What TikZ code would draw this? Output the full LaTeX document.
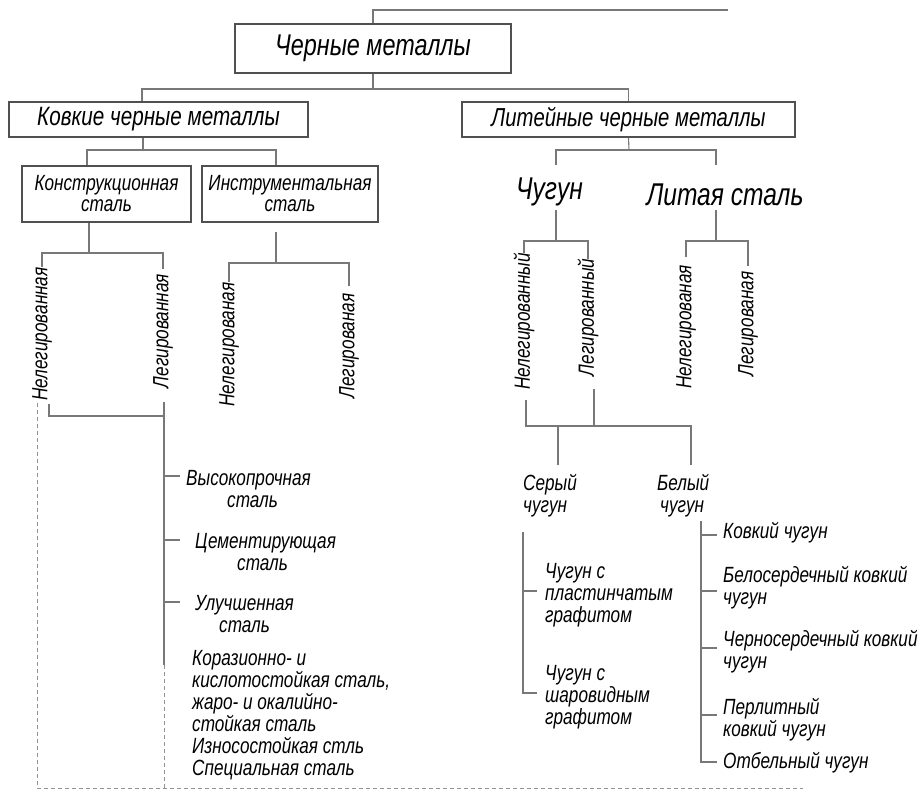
\documentclass[tikz,border=0pt]{standalone}
\usepackage{fontspec}
\setmainfont{Liberation Sans}[FakeStretch=0.78]
\usetikzlibrary{calc}
\definecolor{linegray}{RGB}{120,120,120}
\definecolor{boxgray}{RGB}{80,80,80}
\begin{document}
\begin{tikzpicture}[x=1pt,y=-1pt,
  ln/.style={draw=linegray,line width=1.1pt},
  dsh/.style={draw=linegray!80,line width=0.9pt,dash pattern=on 4pt off 3pt},
  box/.style={draw=boxgray,line width=1.1pt,inner sep=0pt,align=center},
  lbl/.style={inner sep=0pt,align=left,anchor=west,font=\fontsize{22}{22}\selectfont\itshape},
  rot/.style={inner sep=0pt,rotate=90,font=\fontsize{22}{22}\selectfont\itshape},
  big/.style={inner sep=0pt,font=\fontsize{31.5}{31.5}\selectfont\itshape}
]
\fill[white] (0,0) rectangle (923,792);
\useasboundingbox (0,0) rectangle (923,792);

% ---- top level boxes
\node[box,minimum width=276pt,minimum height=49pt,font=\fontsize{30}{30}\selectfont\itshape] (n0) at (373,48.5) {Черные металлы};
\node[box,minimum width=299pt,minimum height=35pt,font=\fontsize{26.5}{26.5}\selectfont\itshape] (k) at (158.5,119.5) {Ковкие черные металлы};
\node[box,minimum width=333pt,minimum height=35pt,font=\fontsize{26}{26}\selectfont\itshape] (l) at (628.5,119.5) {Литейные черные металлы};
\node[box,minimum width=169pt,minimum height=56pt,font=\fontsize{22}{21}\selectfont\itshape] (c) at (106.5,194) {Конструкционная\\сталь};
\node[box,minimum width=176pt,minimum height=56pt,font=\fontsize{22}{21}\selectfont\itshape] (i) at (290,194) {Инструментальная\\сталь};

\coordinate (topend) at (728,10);
\coordinate (j0) at (373,89);
\coordinate (j1) at (143,150);
\draw[ln] (n0.north) |- (topend);
\draw[ln] (n0.south) -- (j0);
\draw[ln] ([xshift=-16.5pt]k.north) |- (j0) -| (l.north);
\draw[ln] ([xshift=-15.5pt]k.south) -- (j1);
\draw[ln] ([xshift=-19.5pt]c.north) |- (j1) -| ([xshift=-14pt]i.north);

% ---- rotated labels, left
\node[rot] (cn) at (42,334) {Нелегированная};
\node[rot] (cl) at (163,331) {Легированная};
\node[rot] (in) at (229,344.5) {Нелегированая};
\node[rot] (il) at (349,346) {Легированая};

\coordinate (j2) at (89,253);
\coordinate (j2i) at (276,263);
\coordinate (ic) at (276,232);
\draw[ln] ([xshift=-17.5pt]c.south) -- (j2);
\draw[ln,shorten >=5pt] (cn.east) |- (j2) -| (cl.east);
\draw[ln] (ic) -- (j2i);
\draw[ln,shorten >=7pt] (in.east) |- (j2i) -| (il.east);

\coordinate (j3) at (164,416);
\coordinate (lb) at (164,665);
\coordinate (bb) at (164,788);
\coordinate (dc) at (37,788);
\coordinate (dr) at (803,788);
\draw[ln] ($(cn.west)+(7,3)$) |- (j3);
\draw[ln] ($(cl.west)+(1,14)$) -- (lb);
\draw[dsh] (lb) -- (bb);
\draw[dsh] ($(cn.west)+(-5,2)$) -- (dc) -- (dr);

% ticks left
\draw[ln] (164,476) -- (180,476);
\draw[ln] (164,540) -- (180,540);
\draw[ln] (164,602) -- (180,602);

\node[lbl] (t1) at (186,489) {Высокопрочная\\\hspace*{41pt}сталь};
\node[lbl] (t2) at (195,552) {Цементирующая\\\hspace*{42pt}сталь};
\node[lbl] (t3) at (195,614) {Улучшенная\\\hspace*{24pt}сталь};
\node[lbl] (t4) at (192,715) {Коразионно- и\\кислотостойкая сталь,\\жаро- и окалийно-\\стойкая сталь\\Износостойкая стль\\Специальная сталь};

% ---- right side
\node[big] (ch) at (549.5,192) {Чугун};
\node[big] (ls) at (725,195) {Литая сталь};
\coordinate (j4) at (629,150);
\coordinate (ch1) at (556,165);
\coordinate (ls1) at (716,165);
\draw[ln] (l.south) -- (j4);
\draw[ln] (ch1) |- (j4) -| (ls1);

\node[rot] (chn) at (524,321.5) {Нелегированный};
\node[rot] (chl) at (588,317.5) {Легированный};
\node[rot] (lsn) at (686,327) {Нелегированая};
\node[rot] (lsl) at (748,324) {Легированая};

\coordinate (ch2) at (556,210);
\coordinate (j5) at (556,241);
\coordinate (ls2) at (716,210);
\coordinate (j6) at (716,241);
\draw[ln] (ch2) -- (j5);
\draw[ln] (chn.east) |- (j5) -| (chl.east);
\draw[ln] (ls2) -- (j6);
\draw[ln,shorten <=8pt,shorten >=5pt] (lsn.east) |- (j6) -| (lsl.east);

\coordinate (j7) at (594,426);
\coordinate (sc0) at (558,465);
\coordinate (bc0) at (691,465);
\draw[ln] ($(chn.west)+(2,10)$) |- (j7);
\draw[ln] ($(chl.west)+(6,13)$) -- (j7);
\draw[ln] (j7) -| (bc0);
\draw[ln] (sc0) |- (j7);

\node[lbl] (sc) at (523,496) {Серый\\чугун};
\node[lbl] (bc) at (657,496) {Белый\\\hspace*{3pt}чугун};

\coordinate (s1) at (523,532);
\coordinate (s2) at (537,693);
\draw[ln] (s1) |- (s2);
\draw[ln] (523,591) -- (537,591);
\node[lbl] (g1) at (545,595) {Чугун с\\пластинчатым\\графитом};
\node[lbl] (g2) at (545,697) {Чугун с\\шаровидным\\графитом};

\coordinate (b1) at (701,521);
\coordinate (b2) at (717,762);
\draw[ln] (b1) |- (b2);
\draw[ln] (701,535) -- (717,535);
\draw[ln] (701,591) -- (717,591);
\draw[ln] (701,648) -- (717,648);
\draw[ln] (701,715) -- (717,715);
\node[lbl] (w1) at (723,533) {Ковкий чугун};
\node[lbl] (w2) at (723,588) {Белосердечный ковкий\\чугун};
\node[lbl] (w3) at (723,652) {Черносердечный ковкий\\чугун};
\node[lbl] (w4) at (723,720) {Перлитный\\ковкий чугун};
\node[lbl] (w5) at (723,763) {Отбельный чугун};
\end{tikzpicture}
\end{document}
